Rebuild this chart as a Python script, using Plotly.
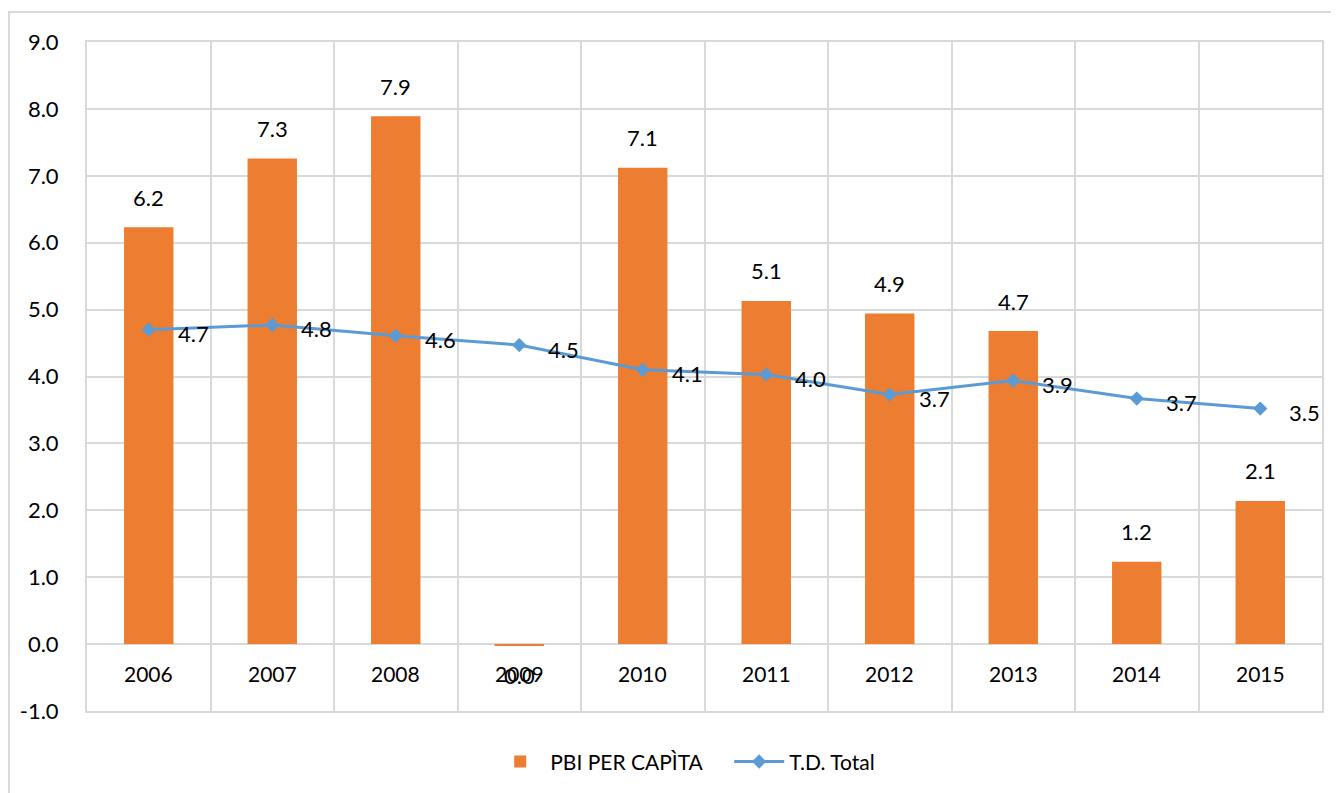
import plotly.graph_objects as go

years = ["2006", "2007", "2008", "2009", "2010", "2011", "2012", "2013", "2014", "2015"]
pbi_per_capita = [6.23, 7.26, 7.89, -0.03, 7.12, 5.13, 4.94, 4.68, 1.23, 2.14]
td_total = [4.70, 4.77, 4.61, 4.47, 4.10, 4.03, 3.73, 3.94, 3.67, 3.52]
y_ticks = [-1, 0, 1, 2, 3, 4, 5, 6, 7, 8, 9]

FONT = "Lato"
GRID = "#d9d9d9"
W, H = 1331, 785
L, R, T, B = 79, 17, 34, 82
pw, ph = W - L - R, H - T - B

fig = go.Figure()
fig.add_trace(go.Bar(x=years, y=pbi_per_capita, name="PBI PER CAPÌTA",
                     marker=dict(color="#ED7D31", line=dict(width=0))))
fig.add_trace(go.Scatter(x=years, y=td_total, name="T.D. Total", mode="lines+markers",
                         line=dict(color="#5B9BD5", width=3),
                         marker=dict(symbol="diamond", size=11, color="#5B9BD5")))

ann = []
for i, v in enumerate(pbi_per_capita):
    ann.append(dict(x=i, y=v, text=f"{abs(v):.1f}" if abs(v) < 0.05 else f"{v:.1f}",
                    showarrow=False, yshift=30 if v >= 0 else -29,
                    font=dict(family=FONT, size=22, color="#000")))
for i, v in enumerate(td_total):
    ann.append(dict(x=i, y=v, text=f"{v:.1f}", showarrow=False, xanchor="left",
                    xshift=27, yshift=-4, font=dict(family=FONT, size=22, color="#000")))
for i, yr in enumerate(years):
    ann.append(dict(x=i, y=0, text=yr, showarrow=False, yshift=-29,
                    font=dict(family=FONT, size=21, color="#000")))

fig.update_layout(
    width=W, height=H,
    margin=dict(l=L, r=R, t=T, b=B, autoexpand=False),
    paper_bgcolor="white", plot_bgcolor="white",
    bargap=0.6,
    showlegend=True,
    legend=dict(orientation="h", x=0.52, xanchor="center", y=-0.076, yanchor="middle",
                font=dict(family=FONT, size=21, color="#000"), itemwidth=50,
                entrywidth=174, traceorder="normal"),
    annotations=ann,
    shapes=[dict(type="rect", xref="paper", yref="paper",
                 x0=(1 - L) / pw, x1=(1360 - L) / pw,
                 y0=(H - B - 820) / ph, y1=(H - B - 4) / ph,
                 line=dict(color=GRID, width=2), layer="below")],
)
fig.update_xaxes(type="category", range=[-0.5, 9.5], tickson="boundaries", showgrid=True,
                 gridcolor=GRID, gridwidth=2, showticklabels=False, showline=True,
                 linecolor=GRID, linewidth=2, mirror=True, ticks="", automargin=False)
fig.update_yaxes(range=[-1, 9], tickvals=y_ticks, ticktext=[f"{t:.1f}" for t in y_ticks],
                 showgrid=True, gridcolor=GRID, gridwidth=2, zeroline=True,
                 zerolinecolor=GRID, zerolinewidth=2, showline=True, linecolor=GRID,
                 linewidth=2, mirror=True, ticks="", ticklabelstandoff=22, automargin=False,
                 tickfont=dict(family=FONT, size=22, color="#000"))

fig.write_html("out.html")
